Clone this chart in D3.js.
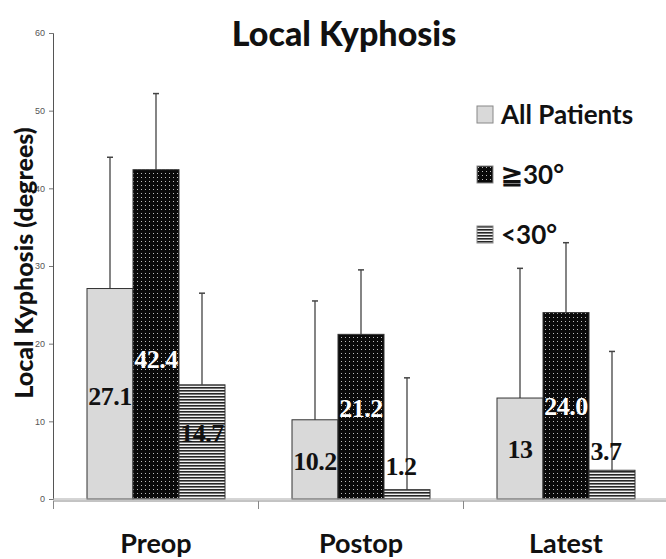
<!DOCTYPE html>
<html><head><meta charset="utf-8">
<script src="https://cdn.jsdelivr.net/npm/d3@7"></script>
<style>body{margin:0;background:#fff}svg{display:block}</style>
</head><body>
<svg id="c" width="666" height="559"></svg>
<script>
const categories = ["Preop", "Postop", "Latest"];
const seriesNames = ["All Patients", "\u226730\u00b0", "<30\u00b0"];
const allPatients = [27.1, 10.2, 13];
const over30 = [42.4, 21.2, 24.0];
const under30 = [14.7, 1.2, 3.7];
const errAll = [44.0, 25.5, 29.7];
const errOver30 = [52.2, 29.5, 33.0];
const errUnder30 = [26.5, 15.6, 19.0];
const labelTexts = [["27.1","10.2","13"],["42.4","21.2","24.0"],["14.7","1.2","3.7"]];
const labelAt = [[12.1, 3.7, 5.3],[16.9, 10.6, 10.8],[7.4, 3.1, 5.0]];
const yTicks = [0, 10, 20, 30, 40, 50, 60];

const series = [allPatients, over30, under30];
const errs = [errAll, errOver30, errUnder30];

const svg = d3.select("#c");
const defs = svg.append("defs");
const pd = defs.append("pattern").attr("id","dots").attr("patternUnits","userSpaceOnUse")
  .attr("width",4).attr("height",4);
pd.append("rect").attr("width",4).attr("height",4).attr("fill","#0a0a0a");
pd.append("rect").attr("x",1).attr("y",1).attr("width",1).attr("height",1).attr("fill","#bdbdbd");
const ps = defs.append("pattern").attr("id","stripes").attr("patternUnits","userSpaceOnUse")
  .attr("width",4).attr("height",3);
ps.append("rect").attr("width",4).attr("height",3).attr("fill","#f2f2f2");
ps.append("rect").attr("width",4).attr("height",1.6).attr("fill","#262626");
const fills = ["#d9d9d9", "url(#dots)", "url(#stripes)"];

const y = d3.scaleLinear().domain([0, 60]).range([499, 33]);
const x0 = d3.scaleBand().domain(categories).range([53.5, 668.5]);
const x1 = d3.scaleBand().domain(d3.range(3)).range([33.5, 171.5]);

// y axis
const ya = svg.append("g").attr("transform","translate(53,0)")
  .call(d3.axisLeft(y).tickValues(yTicks).tickSize(4).tickPadding(4));
ya.select(".domain").attr("stroke","#555");
ya.selectAll(".tick line").attr("stroke","#777");
ya.selectAll(".tick text").attr("fill","#555").attr("font-size",9)
  .attr("font-family","Liberation Sans, Arial, sans-serif");

// bars
const g = svg.append("g");
series.forEach((vals, si) => {
  g.selectAll(null).data(categories).enter().append("rect")
    .attr("x", (c) => x0(c) + x1(si))
    .attr("y", (c, i) => y(vals[i]))
    .attr("width", x1.bandwidth())
    .attr("height", (c, i) => y(0) - y(vals[i]))
    .attr("fill", fills[si])
    .attr("stroke", "#333").attr("stroke-width", 1);
});

// error bars (upper)
series.forEach((vals, si) => {
  categories.forEach((c, i) => {
    const cx = x0(c) + x1(si) + x1.bandwidth() / 2;
    g.append("line").attr("x1", cx).attr("x2", cx)
      .attr("y1", y(vals[i])).attr("y2", y(errs[si][i]))
      .attr("stroke", "#333").attr("stroke-width", 1.2);
    g.append("line").attr("x1", cx - 3).attr("x2", cx + 3)
      .attr("y1", y(errs[si][i])).attr("y2", y(errs[si][i]))
      .attr("stroke", "#444").attr("stroke-width", 1.5);
  });
});

// x axis
svg.append("line").attr("x1", 53).attr("x2", 666).attr("y1", y(0)).attr("y2", y(0))
  .attr("stroke", "#aaa").attr("stroke-width", 1);
const xa = svg.append("g").attr("transform", "translate(0,501)");
xa.append("line").attr("x1", 53).attr("x2", 666).attr("y1", 0).attr("y2", 0)
  .attr("stroke", "#888").attr("stroke-width", 1);
const sep = [x0.range()[0]].concat(categories.slice(1).map(c => x0(c)));
xa.selectAll(null).data(sep).enter().append("line")
  .attr("x1", d => d).attr("x2", d => d).attr("y1", 0).attr("y2", 8)
  .attr("stroke", "#888");
xa.selectAll(null).data(categories).enter().append("text")
  .attr("x", c => x0(c) + x0.bandwidth() / 2).attr("y", 52)
  .attr("text-anchor", "middle").attr("font-family", "Lato, sans-serif")
  .attr("font-weight", 700).attr("font-size", 27).attr("fill", "#111")
  .text(c => c);

// value labels
series.forEach((vals, si) => {
  categories.forEach((c, i) => {
    const cx = x0(c) + x1(si) + x1.bandwidth() / 2;
    svg.append("text").attr("x", cx + (si === 2 && i > 0 ? -6 : 0))
      .attr("y", y(labelAt[si][i]))
      .attr("text-anchor", "middle")
      .attr("font-family", "Liberation Serif, Times New Roman, serif")
      .attr("font-weight", 700).attr("font-size", 26)
      .attr("letter-spacing", -0.5)
      .attr("fill", si === 1 ? "#fff" : "#111")
      .text(labelTexts[si][i]);
  });
});

// title
svg.append("text").attr("x", 344).attr("y", 46).attr("text-anchor", "middle")
  .attr("font-family", "Lato, sans-serif").attr("font-weight", 900)
  .attr("font-size", 34).attr("fill", "#111").text("Local Kyphosis");

// y title
svg.append("text").attr("transform", "translate(33,263) rotate(-90)")
  .attr("text-anchor", "middle").attr("font-family", "Lato, sans-serif")
  .attr("font-weight", 900).attr("font-size", 25).attr("fill", "#111")
  .text("Local Kyphosis (degrees)");

// legend
const leg = svg.append("g").attr("transform", "translate(477,106)");
seriesNames.forEach((n, i) => {
  const gy = i * 60;
  leg.append("rect").attr("x", 0).attr("y", gy).attr("width", 16).attr("height", 17)
    .attr("fill", fills[i]).attr("stroke", "#888").attr("stroke-width", 1);
  leg.append("text").attr("x", 24).attr("y", gy + 18)
    .attr("font-family", "Lato, sans-serif").attr("font-weight", 700)
    .attr("font-size", 26).attr("fill", "#111").text(n);
});
</script>
</body></html>
